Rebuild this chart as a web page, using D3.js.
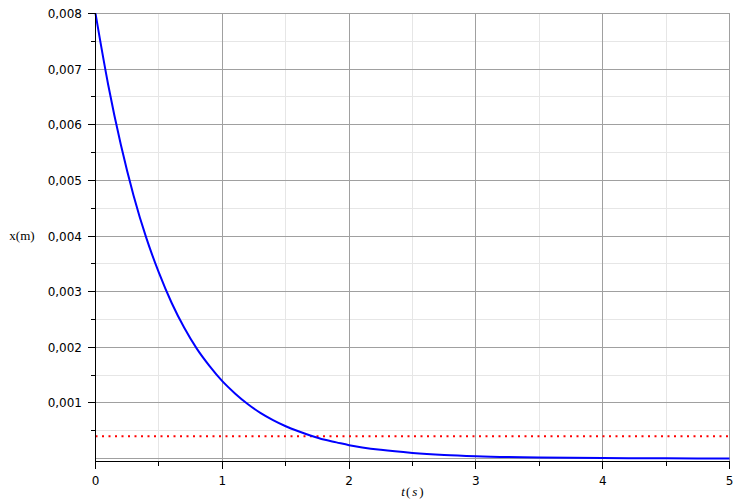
<!DOCTYPE html>
<html><head><meta charset="utf-8">
<script src="https://cdn.jsdelivr.net/npm/d3@7"></script>
<style>body{margin:0;background:#fff}svg{display:block}</style>
</head><body>
<svg id="c" width="738" height="504"></svg>
<script>
// Data
const tValues = [0,0.1,0.2,0.3,0.4,0.5,0.6,0.7,0.8,0.9,1.0,1.1,1.2,1.3,1.4,1.5,1.6,1.7,1.8,1.9,2.0,2.25,2.5,2.75,3.0,3.5,4.0,4.5,5.0];
const xValues = [0.008,0.00672,0.00564,0.00473,0.00397,0.00334,0.00280,0.00235,0.00197,0.00166,0.00139,0.00117,0.00098,0.00082,0.00069,0.00058,0.00049,0.00041,0.00034,0.00029,0.00024,0.000156,0.000101,0.000065,0.000042,0.0000175,0.0000073,0.000003,0.0000013];
const thresholdValue = 0.0004;
const xMajorTicks = [0,1,2,3,4,5];
const xMinorTicks = [0.5,1.5,2.5,3.5,4.5];
const yMajorTicks = [0.001,0.002,0.003,0.004,0.005,0.006,0.007,0.008];
const yMinorTicks = [0.0005,0.0015,0.0025,0.0035,0.0045,0.0055,0.0065,0.0075];
const yTickLabels = ["0,001","0,002","0,003","0,004","0,005","0,006","0,007","0,008"];

const svg = d3.select("#c");
const x = d3.scaleLinear().domain([0,5]).range([95.5,729.5]);
const y = d3.scaleLinear().domain([0,0.008]).range([458.5,13.5]);
const axisY = y(0)+3;
const x0 = x(0), x1 = x(5), yTop = y(0.008);

// minor grid
const g = svg.append("g").attr("shape-rendering","crispEdges");
g.selectAll(".vminor").data(xMinorTicks).join("line")
  .attr("x1",d=>x(d)).attr("x2",d=>x(d)).attr("y1",yTop).attr("y2",axisY)
  .attr("stroke","#e6e6e6");
g.selectAll(".hminor").data(yMinorTicks).join("line")
  .attr("x1",x0).attr("x2",x1).attr("y1",d=>y(d)).attr("y2",d=>y(d))
  .attr("stroke","#e6e6e6");
// major grid
g.selectAll(".vmajor").data(xMajorTicks.slice(1)).join("line")
  .attr("x1",d=>x(d)).attr("x2",d=>x(d)).attr("y1",yTop).attr("y2",axisY)
  .attr("stroke","#a0a0a0");
g.selectAll(".hmajor").data([0].concat(yMajorTicks)).join("line")
  .attr("x1",x0).attr("x2",x1).attr("y1",d=>y(d)).attr("y2",d=>y(d))
  .attr("stroke","#a0a0a0");

// threshold dotted line
svg.append("line")
  .attr("x1",x0).attr("x2",x1).attr("y1",y(thresholdValue)).attr("y2",y(thresholdValue))
  .attr("stroke","#ff0000").attr("stroke-width",2).attr("stroke-dasharray","2,4.5");

// curve
const data = tValues.map((t,i)=>[t,xValues[i]]);
svg.append("path").datum(data)
  .attr("d", d3.line().x(d=>x(d[0])).y(d=>y(d[1])).curve(d3.curveMonotoneX))
  .attr("fill","none").attr("stroke","#0000ff").attr("stroke-width",2);

// axes
const a = svg.append("g").attr("shape-rendering","crispEdges").attr("stroke","#000");
a.append("line").attr("x1",x0).attr("x2",x0).attr("y1",yTop).attr("y2",axisY);
a.append("line").attr("x1",x0).attr("x2",x1).attr("y1",axisY).attr("y2",axisY);
a.selectAll(".ymaj").data(yMajorTicks).join("line")
  .attr("x1",x0-8).attr("x2",x0).attr("y1",d=>y(d)).attr("y2",d=>y(d));
a.selectAll(".ymin").data(yMinorTicks).join("line")
  .attr("x1",x0-5).attr("x2",x0).attr("y1",d=>y(d)).attr("y2",d=>y(d));
a.selectAll(".xmaj").data(xMajorTicks).join("line")
  .attr("x1",d=>x(d)).attr("x2",d=>x(d)).attr("y1",axisY).attr("y2",axisY+7);
a.selectAll(".xmin").data(xMinorTicks).join("line")
  .attr("x1",d=>x(d)).attr("x2",d=>x(d)).attr("y1",axisY).attr("y2",axisY+4);

// tick labels
const font = "DejaVu Sans, Verdana, sans-serif";
svg.selectAll(".ylab").data(yMajorTicks).join("text")
  .attr("x",82).attr("y",d=>y(d)+4.5).attr("text-anchor","end")
  .attr("font-family",font).attr("font-size",12).attr("fill","#000")
  .text((d,i)=>yTickLabels[i]);
svg.selectAll(".xlab").data(xMajorTicks).join("text")
  .attr("x",d=>x(d)).attr("y",484.5).attr("text-anchor","middle")
  .attr("font-family",font).attr("font-size",12).attr("fill","#000")
  .text(d=>String(d));

// axis titles
svg.append("text").attr("x",22).attr("y",240).attr("text-anchor","middle")
  .attr("font-family","Liberation Serif, Times New Roman, serif").attr("font-size",13)
  .text("x(m)");
const tt = svg.append("text").attr("x",(x0+x1)/2).attr("y",496).attr("text-anchor","middle")
  .attr("font-family","Liberation Serif, Times New Roman, serif").attr("font-size",13);
tt.append("tspan").attr("font-style","italic").text("t");
tt.append("tspan").attr("dx",1).text("(");
tt.append("tspan").attr("dx",2).attr("font-style","italic").text("s");
tt.append("tspan").attr("dx",2).text(")");
</script>
</body></html>
